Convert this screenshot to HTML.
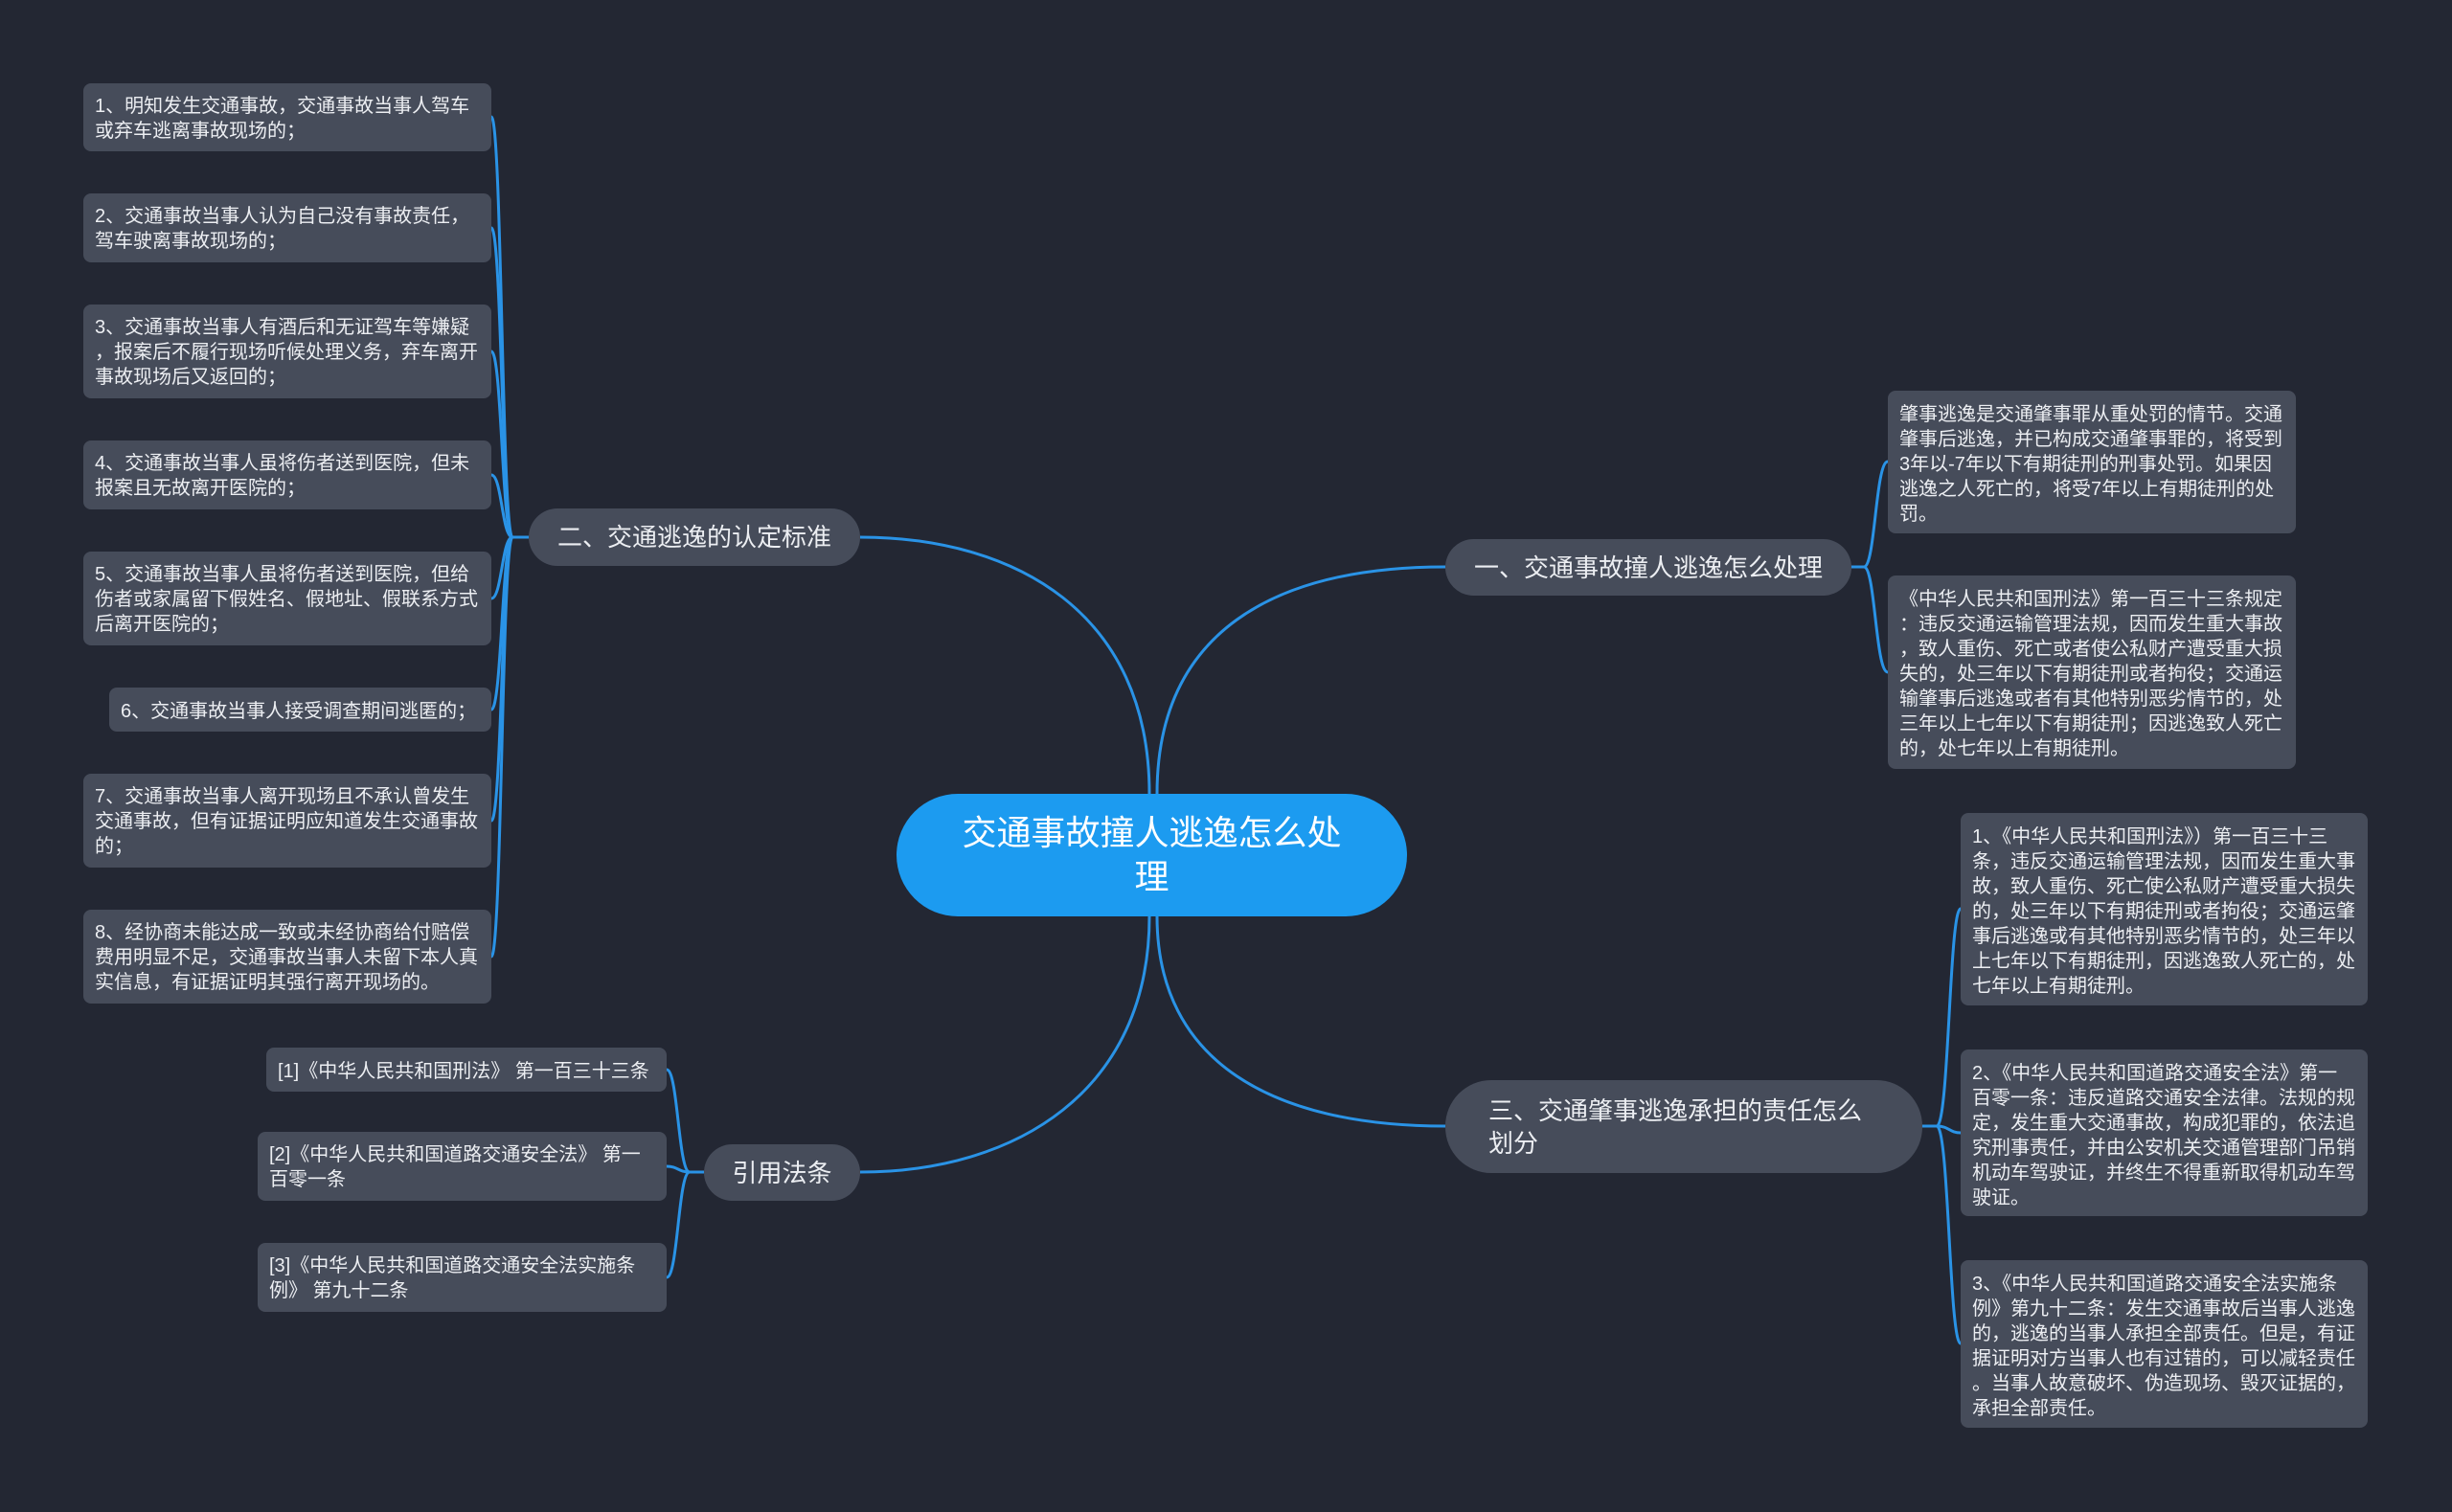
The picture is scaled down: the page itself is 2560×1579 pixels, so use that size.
<!DOCTYPE html>
<html><head><meta charset="utf-8"><style>
*{margin:0;padding:0;box-sizing:border-box}
body{width:2560px;height:1579px;background:#232733;position:relative;overflow:hidden;font-family:"Liberation Sans","Noto Sans CJK SC",sans-serif;color:#eceef2}
.b{position:absolute;background:#464c5a;border-radius:8px;font-size:20px;line-height:26px;padding:11px 12px 0 12px;white-space:nowrap}
.n{position:absolute;background:#464c5a;border-radius:30px;font-size:26px;line-height:34px;display:flex;align-items:center;justify-content:center}
.c{position:absolute;left:936px;top:829px;width:533px;height:128px;background:#1c9bf0;border-radius:64px;font-size:36px;line-height:46px;text-align:center;display:flex;align-items:center;justify-content:center;color:#fff}
svg{position:absolute;left:0;top:0}
</style></head><body>
<svg width="2560" height="1579" fill="none" stroke="#2a93e6" stroke-width="3">
<path d="M1200 829 C1200 640 1060 561 898 561"/>
<path d="M1208 829 C1208 660 1330 592 1509 592"/>
<path d="M1208 957 C1208 1110 1330 1176 1509 1176"/>
<path d="M1200 957 C1200 1140 1060 1224 898 1224"/>
<g>
<path d="M552 561 H535 C524 561 524 122 513 122"/>
<path d="M552 561 H535 C524 561 524 238 513 238"/>
<path d="M552 561 H535 C524 561 524 367 513 367"/>
<path d="M552 561 H535 C524 561 524 496 513 496"/>
<path d="M552 561 H535 C524 561 524 625 513 625"/>
<path d="M552 561 H535 C524 561 524 741 513 741"/>
<path d="M552 561 H535 C524 561 524 857 513 857"/>
<path d="M552 561 H535 C524 561 524 999 513 999"/>
<path d="M1933 592 H1946 C1958 592 1958 482 1971 482"/>
<path d="M1933 592 H1946 C1958 592 1958 702 1971 702"/>
<path d="M2007 1176 H2022 C2035 1176 2035 949 2047 949"/>
<path d="M2007 1176 H2022 C2035 1176 2035 1183 2047 1183"/>
<path d="M2007 1176 H2022 C2035 1176 2035 1403 2047 1403"/>
<path d="M735 1224 H720 C708 1224 708 1117 696 1117"/>
<path d="M735 1224 H720 C708 1224 708 1218 696 1218"/>
<path d="M735 1224 H720 C708 1224 708 1334 696 1334"/>
</g>
</svg>
<div class="c">交通事故撞人逃逸怎么处<br>理</div>
<div class="n" style="left:552px;top:531px;width:346px;height:60px">二、交通逃逸的认定标准</div>
<div class="n" style="left:1509px;top:563px;width:424px;height:59px">一、交通事故撞人逃逸怎么处理</div>
<div class="n" style="left:1509px;top:1128px;width:498px;height:97px;justify-content:flex-start;padding-left:45px;border-radius:48px">三、交通肇事逃逸承担的责任怎么<br>划分</div>
<div class="n" style="left:735px;top:1195px;width:163px;height:59px">引用法条</div>

<div class="b" style="left:87px;top:87px;width:426px;height:71px">1、明知发生交通事故，交通事故当事人驾车<br>或弃车逃离事故现场的；</div>
<div class="b" style="left:87px;top:202px;width:426px;height:72px">2、交通事故当事人认为自己没有事故责任，<br>驾车驶离事故现场的；</div>
<div class="b" style="left:87px;top:318px;width:426px;height:98px">3、交通事故当事人有酒后和无证驾车等嫌疑<br>，报案后不履行现场听候处理义务，弃车离开<br>事故现场后又返回的；</div>
<div class="b" style="left:87px;top:460px;width:426px;height:72px">4、交通事故当事人虽将伤者送到医院，但未<br>报案且无故离开医院的；</div>
<div class="b" style="left:87px;top:576px;width:426px;height:98px">5、交通事故当事人虽将伤者送到医院，但给<br>伤者或家属留下假姓名、假地址、假联系方式<br>后离开医院的；</div>
<div class="b" style="left:114px;top:718px;width:399px;height:46px;padding-top:12px">6、交通事故当事人接受调查期间逃匿的；</div>
<div class="b" style="left:87px;top:808px;width:426px;height:98px">7、交通事故当事人离开现场且不承认曾发生<br>交通事故，但有证据证明应知道发生交通事故<br>的；</div>
<div class="b" style="left:87px;top:950px;width:426px;height:98px">8、经协商未能达成一致或未经协商给付赔偿<br>费用明显不足，交通事故当事人未留下本人真<br>实信息，有证据证明其强行离开现场的。</div>

<div class="b" style="left:1971px;top:408px;width:426px;height:149px;padding-top:12px">肇事逃逸是交通肇事罪从重处罚的情节。交通<br>肇事后逃逸，并已构成交通肇事罪的，将受到<br>3年以-7年以下有期徒刑的刑事处罚。如果因<br>逃逸之人死亡的，将受7年以上有期徒刑的处<br>罚。</div>
<div class="b" style="left:1971px;top:601px;width:426px;height:202px;padding-top:12px">《中华人民共和国刑法》第一百三十三条规定<br>：违反交通运输管理法规，因而发生重大事故<br>，致人重伤、死亡或者使公私财产遭受重大损<br>失的，处三年以下有期徒刑或者拘役；交通运<br>输肇事后逃逸或者有其他特别恶劣情节的，处<br>三年以上七年以下有期徒刑；因逃逸致人死亡<br>的，处七年以上有期徒刑。</div>

<div class="b" style="left:2047px;top:849px;width:425px;height:201px;padding-top:12px">1、《中华人民共和国刑法》）第一百三十三<br>条，违反交通运输管理法规，因而发生重大事<br>故，致人重伤、死亡使公私财产遭受重大损失<br>的，处三年以下有期徒刑或者拘役；交通运肇<br>事后逃逸或有其他特别恶劣情节的，处三年以<br>上七年以下有期徒刑，因逃逸致人死亡的，处<br>七年以上有期徒刑。</div>
<div class="b" style="left:2047px;top:1096px;width:425px;height:174px;padding-top:12px">2、《中华人民共和国道路交通安全法》第一<br>百零一条：违反道路交通安全法律。法规的规<br>定，发生重大交通事故，构成犯罪的，依法追<br>究刑事责任，并由公安机关交通管理部门吊销<br>机动车驾驶证，并终生不得重新取得机动车驾<br>驶证。</div>
<div class="b" style="left:2047px;top:1316px;width:425px;height:175px;padding-top:12px">3、《中华人民共和国道路交通安全法实施条<br>例》第九十二条：发生交通事故后当事人逃逸<br>的，逃逸的当事人承担全部责任。但是，有证<br>据证明对方当事人也有过错的，可以减轻责任<br>。当事人故意破坏、伪造现场、毁灭证据的，<br>承担全部责任。</div>

<div class="b" style="left:278px;top:1094px;width:418px;height:46px;padding-top:12px">[1]《中华人民共和国刑法》 第一百三十三条</div>
<div class="b" style="left:269px;top:1182px;width:427px;height:72px">[2]《中华人民共和国道路交通安全法》 第一<br>百零一条</div>
<div class="b" style="left:269px;top:1298px;width:427px;height:72px">[3]《中华人民共和国道路交通安全法实施条<br>例》 第九十二条</div>
</body></html>
